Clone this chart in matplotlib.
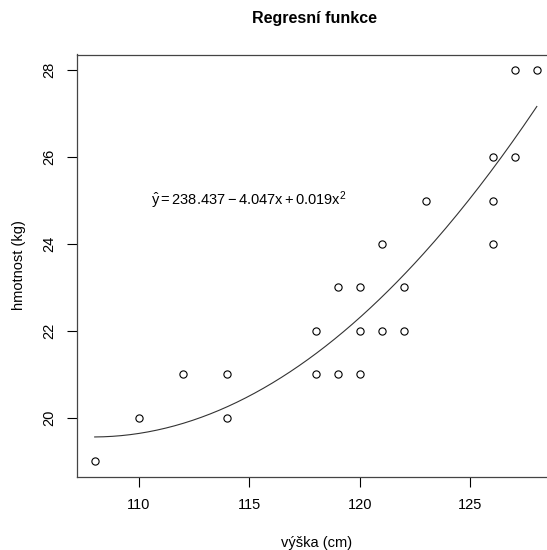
import numpy as np
import matplotlib
matplotlib.use("Agg")
import matplotlib.pyplot as plt

# Data (the point at 108 cm / 19 kg appears twice)
vyska = [108, 108, 110, 112, 114, 114, 118, 118, 119, 119, 120, 120, 120,
         121, 121, 122, 122, 123, 126, 126, 126, 127, 127, 128]
hmotnost = [19, 19, 20, 21, 21, 20, 22, 21, 23, 21, 23, 22, 21,
            24, 22, 23, 22, 25, 26, 25, 24, 28, 26, 28]
x_ticks = [110, 115, 120, 125]
y_ticks = [20, 22, 24, 26, 28]
rovnice = r"$\hat{y} = 238.437 - 4.047x + 0.019x^2$"

plt.rcParams["font.family"] = ["Liberation Sans", "DejaVu Sans"]
plt.rcParams["mathtext.fontset"] = "custom"
plt.rcParams["mathtext.rm"] = "Liberation Sans"
plt.rcParams["mathtext.it"] = "Liberation Sans"

fig = plt.figure(figsize=(5.47, 5.5), dpi=100)
ax = fig.add_axes([77 / 547, 73 / 550, 477.5 / 547, 422.5 / 550])

# Quadratic regression fitted to all points
coef = np.polyfit(vyska, hmotnost, 2)
xs = np.linspace(min(vyska), max(vyska), 200)
ax.plot(xs, np.polyval(coef, xs), color="#333333", lw=0.8)

# overlapping points drawn once, so the marker doesn't look bolder
body = np.unique(np.column_stack([vyska, hmotnost]), axis=0)
ax.plot(body[:, 0], body[:, 1], "o", mfc="none", mec="black", ms=5.2, mew=0.8)

ax.text(115, 25, rovnice, ha="center", va="center", fontsize=10.5)

ax.set_xlim(107.2, 128.8)
ax.set_ylim(18.64, 28.36)
ax.set_xticks(x_ticks)
ax.set_yticks(y_ticks)
ax.set_yticklabels([str(v) for v in y_ticks], rotation=90, va="center")
ax.tick_params(direction="out", length=7, width=0.8, labelsize=10.5, pad=8)
for s in ax.spines.values():
    s.set_linewidth(0.9)
    s.set_color("#444444")

fig.text(315, 550 - 18, "Regresní funkce", transform=None, ha="center", va="center",
         fontsize=11.5, fontweight="bold")
fig.text(317, 550 - 543, "výška (cm)", transform=None, ha="center", va="center", fontsize=10.5)
fig.text(19, 550 - 265, "hmotnost (kg)", transform=None, ha="center", va="center",
         rotation=90, fontsize=10.5)

fig.savefig("out.png", dpi=100)
